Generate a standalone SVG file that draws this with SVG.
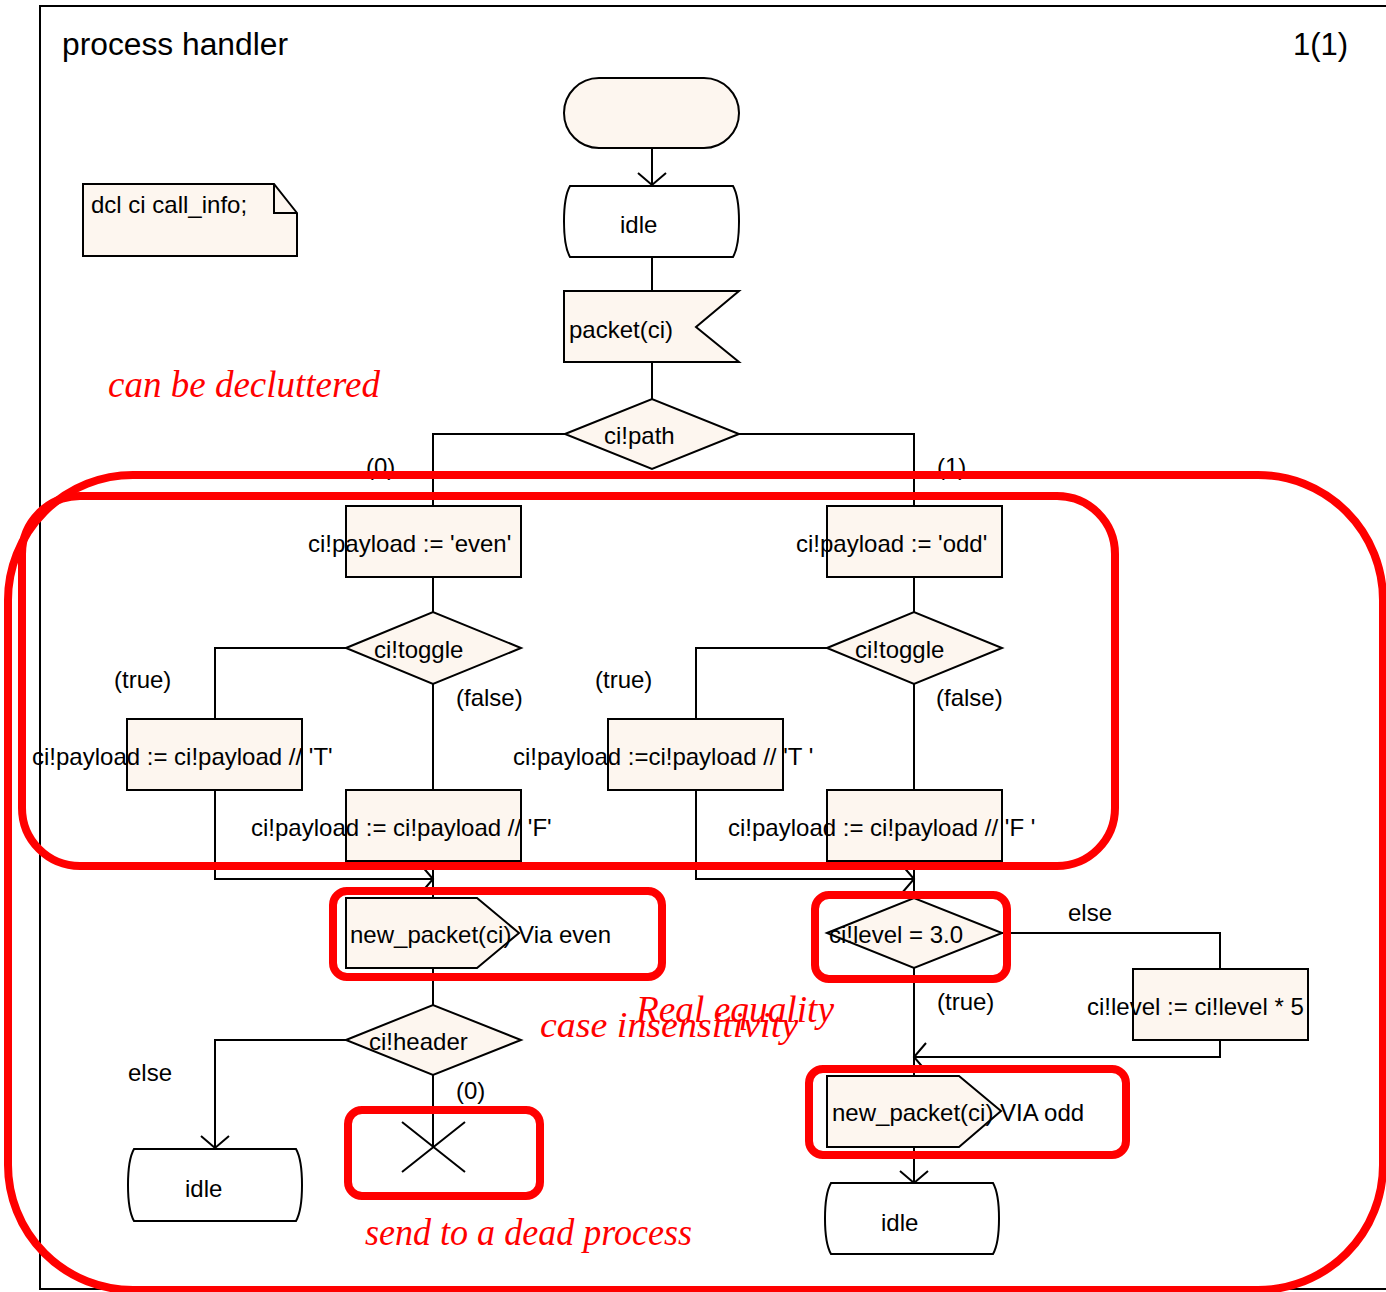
<svg xmlns="http://www.w3.org/2000/svg" width="1386" height="1292" viewBox="0 0 1386 1292">
  <defs>
    <style>
      .frame { fill: none; stroke: #000; stroke-width: 2; }
      .sym { fill: #fdf6ef; stroke: #000; stroke-width: 2; }
      .state { fill: #fff; stroke: #000; stroke-width: 2; }
      .edge { fill: none; stroke: #000; stroke-width: 2; }
      .lbl { font-family: "Liberation Sans", Arial, sans-serif; font-size: 24px; fill: #000; }
      .title { font-family: "Liberation Sans", Arial, sans-serif; font-size: 31px; fill: #000; }
      .mark { fill: none; stroke: #ff0000; stroke-width: 8; }
      .note { font-family: "Liberation Serif", "Times New Roman", serif; font-style: italic; fill: #ff0000; }
    </style>
    <marker id="arrow" markerUnits="userSpaceOnUse" markerWidth="30" markerHeight="30" viewBox="-15 -15 30 30" refX="0" refY="0" orient="auto" overflow="visible">
      <path d="M -12 -14 L 0 0 L -12 14" fill="none" stroke="#000" stroke-width="2"/>
    </marker>
  </defs>

  <rect width="1386" height="1292" fill="#fff"/>

  <!-- page frame -->
  <rect class="frame" x="40" y="6" width="1400" height="1283"/>
  <text class="title" x="62" y="55" textLength="226" lengthAdjust="spacingAndGlyphs">process handler</text>
  <text class="title" x="1293" y="55">1(1)</text>

  <!-- declaration text box -->
  <g id="decl">
    <path class="sym" d="M 83 184 H 274 L 297 213 V 256 H 83 Z"/>
    <path class="edge" d="M 274 184 V 213 H 297"/>
    <text class="lbl" x="91" y="213">dcl ci call_info;</text>
  </g>

  <!-- connectors -->
  <g id="connectors">
    <path class="edge" d="M 652 149 V 185" marker-end="url(#arrow)"/>
    <path class="edge" d="M 652 257 V 291"/>
    <path class="edge" d="M 652 362 V 399"/>
    <path class="edge" d="M 565 434 H 433 V 506"/>
    <path class="edge" d="M 739 434 H 914 V 506"/>
    <!-- even branch -->
    <path class="edge" d="M 433 577 V 612"/>
    <path class="edge" d="M 346 648 H 215 V 719"/>
    <path class="edge" d="M 433 684 V 790"/>
    <path class="edge" d="M 215 790 V 879 H 433" marker-end="url(#arrow)"/>
    <path class="edge" d="M 433 861 V 898"/>
    <path class="edge" d="M 433 968 V 1005"/>
    <path class="edge" d="M 346 1040 H 215 V 1148" marker-end="url(#arrow)"/>
    <path class="edge" d="M 433 1075 V 1147"/>
    <!-- odd branch -->
    <path class="edge" d="M 914 577 V 612"/>
    <path class="edge" d="M 827 648 H 696 V 719"/>
    <path class="edge" d="M 914 684 V 790"/>
    <path class="edge" d="M 696 790 V 879 H 914" marker-end="url(#arrow)"/>
    <path class="edge" d="M 914 861 V 898"/>
    <path class="edge" d="M 1002 933 H 1220 V 969"/>
    <path class="edge" d="M 1220 1040 V 1057 H 914" marker-end="url(#arrow)"/>
    <path class="edge" d="M 914 968 V 1076"/>
    <path class="edge" d="M 914 1147 V 1183" marker-end="url(#arrow)"/>

    <text class="lbl" x="366" y="475">(0)</text>
    <text class="lbl" x="937" y="475">(1)</text>
    <text class="lbl" x="114" y="688">(true)</text>
    <text class="lbl" x="456" y="706">(false)</text>
    <text class="lbl" x="595" y="688">(true)</text>
    <text class="lbl" x="936" y="706">(false)</text>
    <text class="lbl" x="128" y="1081">else</text>
    <text class="lbl" x="456" y="1099">(0)</text>
    <text class="lbl" x="1068" y="921">else</text>
    <text class="lbl" x="937" y="1010">(true)</text>
  </g>

  <!-- start -->
  <g id="start">
    <rect class="sym" x="564" y="78" width="175" height="70" rx="35" ry="35"/>
  </g>

  <g id="state-idle-top">
    <path class="state" d="M 570 186 H 733 C 741 200 741 243 733 257 H 570 C 562 243 562 200 570 186 Z"/>
    <text class="lbl" x="620" y="233">idle</text>
  </g>

  <g id="input-packet">
    <path class="sym" d="M 564 291 H 739 L 696 327 L 739 362 H 564 Z"/>
    <text class="lbl" x="569" y="338">packet(ci)</text>
  </g>

  <g id="decision-path">
    <polygon class="sym" points="565,434 652,399 739,434 652,469"/>
    <text class="lbl" x="604" y="444">ci!path</text>
  </g>

  <g id="task-even">
    <rect class="sym" x="346" y="506" width="175" height="71"/>
    <text class="lbl" x="308" y="552">ci!payload := 'even'</text>
  </g>

  <g id="task-odd">
    <rect class="sym" x="827" y="506" width="175" height="71"/>
    <text class="lbl" x="796" y="552">ci!payload := 'odd'</text>
  </g>

  <g id="decision-toggle-even">
    <polygon class="sym" points="346,648 433,612 521,648 433,684"/>
    <text class="lbl" x="374" y="658">ci!toggle</text>
  </g>

  <g id="decision-toggle-odd">
    <polygon class="sym" points="827,648 914,612 1002,648 914,684"/>
    <text class="lbl" x="855" y="658">ci!toggle</text>
  </g>

  <g id="task-even-t">
    <rect class="sym" x="127" y="719" width="175" height="71"/>
    <text class="lbl" x="32" y="765">ci!payload := ci!payload // 'T'</text>
  </g>

  <g id="task-even-f">
    <rect class="sym" x="346" y="790" width="175" height="71"/>
    <text class="lbl" x="251" y="836">ci!payload := ci!payload // 'F'</text>
  </g>

  <g id="task-odd-t">
    <rect class="sym" x="608" y="719" width="175" height="71"/>
    <text class="lbl" x="513" y="765">ci!payload :=ci!payload // 'T '</text>
  </g>

  <g id="task-odd-f">
    <rect class="sym" x="827" y="790" width="175" height="71"/>
    <text class="lbl" x="728" y="836">ci!payload := ci!payload // 'F '</text>
  </g>

  <g id="output-even">
    <path class="sym" d="M 346 898 H 477 L 519 933 L 477 968 H 346 Z"/>
    <text class="lbl" x="350" y="943">new_packet(ci) Via even</text>
  </g>

  <g id="decision-level">
    <polygon class="sym" points="827,933 914,898 1002,933 914,968"/>
    <text class="lbl" x="829" y="943">ci!level = 3.0</text>
  </g>

  <g id="task-level">
    <rect class="sym" x="1133" y="969" width="175" height="71"/>
    <text class="lbl" x="1087" y="1015">ci!level := ci!level * 5</text>
  </g>

  <g id="decision-header">
    <polygon class="sym" points="346,1040 433,1005 521,1040 433,1075"/>
    <text class="lbl" x="369" y="1050">ci!header</text>
  </g>

  <g id="state-idle-left">
    <path class="state" d="M 134 1149 H 296 C 304 1163 304 1207 296 1221 H 134 C 126 1207 126 1163 134 1149 Z"/>
    <text class="lbl" x="185" y="1197">idle</text>
  </g>

  <g id="stop">
    <path class="edge" d="M 402 1122 L 465 1172 M 465 1122 L 402 1172"/>
  </g>

  <g id="output-odd">
    <path class="sym" d="M 827 1076 H 959 L 1001 1111 L 959 1147 H 827 Z"/>
    <text class="lbl" x="832" y="1121">new_packet(ci) VIA odd</text>
  </g>

  <g id="state-idle-right">
    <path class="state" d="M 831 1183 H 993 C 1001 1197 1001 1240 993 1254 H 831 C 823 1240 823 1197 831 1183 Z"/>
    <text class="lbl" x="881" y="1231">idle</text>
  </g>

  <!-- review markings -->
  <g id="markings">
    <rect class="mark" x="8" y="475" width="1375" height="815" rx="125" ry="125"/>
    <rect class="mark" x="22" y="496" width="1093" height="370" rx="58" ry="58"/>
    <rect class="mark" x="333" y="891" width="329" height="86" rx="14" ry="14"/>
    <rect class="mark" x="815" y="895" width="192" height="84" rx="14" ry="14"/>
    <rect class="mark" x="809" y="1069" width="317" height="86" rx="14" ry="14"/>
    <rect class="mark" x="348" y="1110" width="192" height="86" rx="14" ry="14"/>
    <text class="note" x="108" y="397" font-size="38" textLength="272" lengthAdjust="spacingAndGlyphs">can be decluttered</text>
    <text class="note" x="540" y="1037" font-size="36" textLength="258" lengthAdjust="spacingAndGlyphs">case insensitivity</text>
    <text class="note" x="636" y="1022" font-size="38" textLength="198" lengthAdjust="spacingAndGlyphs">Real equality</text>
    <text class="note" x="365" y="1245" font-size="38" textLength="327" lengthAdjust="spacingAndGlyphs">send to a dead process</text>
  </g>
</svg>
